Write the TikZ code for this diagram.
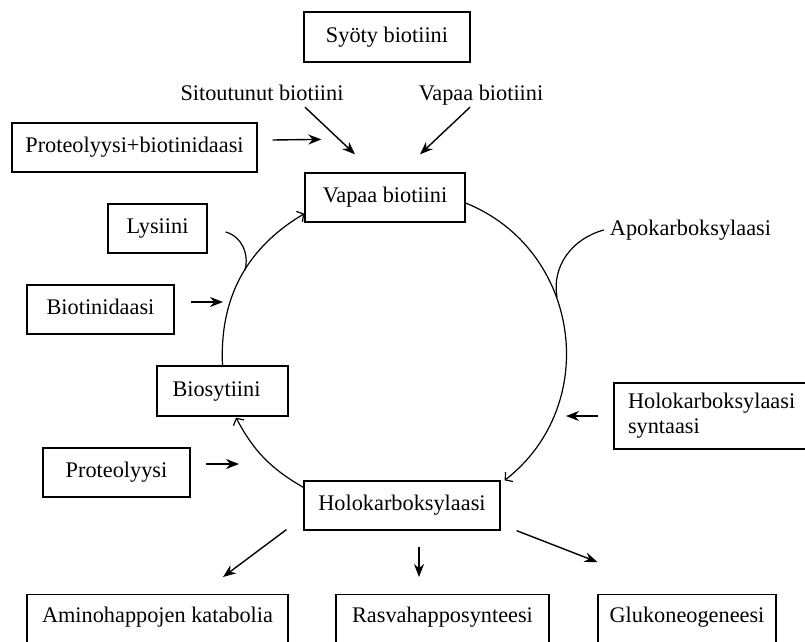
\documentclass[tikz,border=0pt]{standalone}
\usepackage{fontspec}
\setmainfont{Liberation Serif}
\usetikzlibrary{arrows.meta}

\begin{document}
\begin{tikzpicture}[x=1pt,y=1pt,
    txt/.style={font=\fontsize{22.3}{25}\selectfont},
    box/.style={txt,draw,line width=1.3pt,inner sep=0pt,text height=15pt,text depth=5pt},
    lbl/.style={txt,inner sep=2pt,text height=15pt,text depth=5pt},
    arr/.style={line width=1.4pt,-{Stealth[length=13pt,width=10pt]}},
    cyc/.style={line width=1.2pt,-{Straight Barb[length=5pt,width=12pt]}}]
                \useasboundingbox (0,0) rectangle (805,-641);
                \clip (0,0) rectangle (805,-641);
                \node[box,minimum width=166pt,minimum height=50pt] (syoty) at (387,-37) {Syöty biotiini};
                \node[lbl] (sit) at (262,-95) {Sitoutunut biotiini};
                \node[lbl] (vfree) at (481,-95) {Vapaa biotiini};
                \node[box,minimum width=245pt,minimum height=49pt] (protbio) at (134.5,-147.5) {Proteolyysi+biotinidaasi};
                \node[box,minimum width=160pt,minimum height=49pt] (vapaa) at (385,-197.5) {Vapaa biotiini};
                \node[box,minimum width=99pt,minimum height=49pt] (lys) at (157.5,-228.5) {Lysiini};
                \node[lbl] (apo) at (690.5,-230) {Apokarboksylaasi};
                \node[box,minimum width=147pt,minimum height=49pt] (biotin) at (100.5,-309.5) {Biotinidaasi};
                \node[box,minimum width=131pt,minimum height=50pt] (bios) at (222.5,-391) {Biosytiini\hspace*{12pt}};
                \node[txt,draw,line width=1.3pt,align=left,text width=166pt,inner xsep=14pt,minimum height=66pt] (hcs) at (711,-416) {Holokarboksylaasi\\syntaasi};
                \node[box,minimum width=147pt,minimum height=49pt] (prot) at (116.5,-472.5) {Proteolyysi};
                \node[box,minimum width=196pt,minimum height=49pt] (holo) at (402,-505.5) {Holokarboksylaasi};
                \node[box,anchor=north,inner ysep=13pt,text depth=40pt,minimum width=261pt] (amino) at (157.5,-594) {Aminohappojen katabolia};
                \node[box,anchor=north,inner ysep=13pt,text depth=40pt,minimum width=213pt] (rasva) at (442.5,-594) {Rasvahapposynteesi};
                \node[box,anchor=north,inner ysep=13pt,text depth=40pt,minimum width=178pt] (gluko) at (687,-594) {Glukoneogeneesi};
                \coordinate (bt) at (223,-302);
                \coordinate (pt) at (239,-464);
                \coordinate (ht) at (566,-416);
                \coordinate (lj) at (245,-270);
                \coordinate (aj) at (557,-297);
                \draw[arr] ([xshift=43pt]sit.south) -- ([shift={(-30pt,18pt)}]vapaa.north);
                \draw[arr] ([xshift=-11pt]vfree.south) -- ([shift={(35pt,18pt)}]vapaa.north);
                \draw[arr] ([shift={(15pt,7.5pt)}]protbio.east) -- ([shift={(17pt,33pt)}]vapaa.north west);
                \draw[arr] ([shift={(16pt,7.5pt)}]biotin.east) -- (bt);
                \draw[arr] ([shift={(15pt,8.5pt)}]prot.east) -- (pt);
                \draw[arr] ([xshift=-15pt]hcs.west) -- (ht);
                \draw[arr] ([shift={(-17pt,1pt)}]holo.south west) -- ([shift={(65.5pt,17pt)}]amino.north);
                \draw[arr] ([shift={(17pt,-16pt)}]holo.south) -- ([shift={(-23.5pt,17pt)}]rasva.north);
                \draw[arr] ([xshift=16pt]holo.south east) -- ([yshift=32pt]gluko.north west);
                \draw[cyc] (bios.north) to[bend left=31] ([yshift=9pt]vapaa.south west);
                \draw[cyc] ([yshift=-5.5pt]vapaa.east) to[bend left=60,looseness=1.13] ([xshift=4pt]holo.north east);
                \draw[cyc] ([yshift=-7pt]holo.north west) to[bend left=16] ([shift={(13.5pt,-1pt)}]bios.south);
                \draw[line width=1.2pt] ([shift={(18pt,-3.5pt)}]lys.east) to[out=-15,in=75] (lj);
                \draw[line width=1.2pt] ([xshift=-4pt]apo.west) to[out=195,in=100] (aj);
            \end{tikzpicture}
\end{document}
